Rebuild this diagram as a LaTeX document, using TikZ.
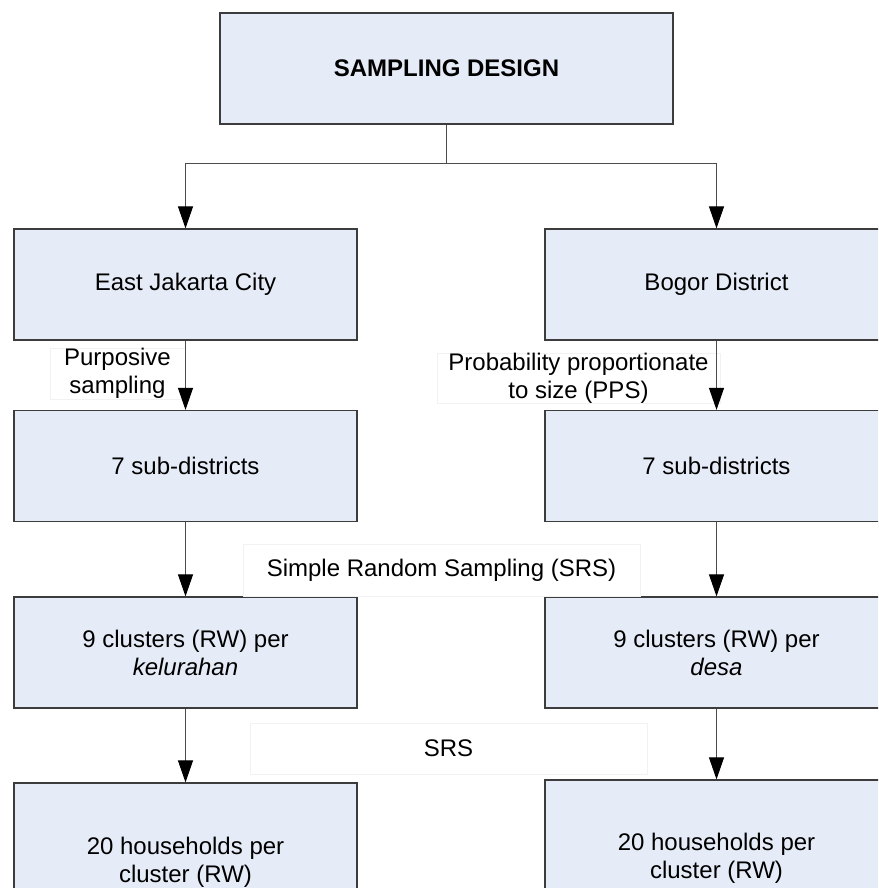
\documentclass[tikz,border=0pt]{standalone}
\usepackage{fontspec}
\setmainfont{Liberation Sans}
\usepackage{xcolor}
\usetikzlibrary{positioning,arrows.meta}
\definecolor{boxfill}{RGB}{230,236,247}
\definecolor{boxline}{RGB}{60,60,60}
\definecolor{labelline}{RGB}{242,242,242}

\begin{document}
\begin{tikzpicture}[x=1pt,y=-1pt,
    stage/.style={draw=boxline, line width=1.2pt, fill=boxfill, minimum width=343pt, minimum height=111pt, align=center, inner sep=0pt, font=\fontsize{24}{28}\selectfont},
    method/.style={draw=labelline, fill=white, align=center, inner sep=0pt, font=\fontsize{24}{28}\selectfont},
    link/.style={draw=black!70, line width=1pt},
    flow/.style={link, -{Triangle[length=22pt,width=15pt,color=black]}}]
    \useasboundingbox (0,0) rectangle (878,888);
    \clip (0,0) rectangle (878,888);

    \node[stage, minimum width=453pt] (design) at (446.5,68.5) {\textbf{SAMPLING DESIGN}};
    \node[stage] (jakarta) at (185.5,284.5) {East Jakarta City};
    \node[stage] (bogor) at (716.5,284.5) {Bogor District};
    \node[stage] (jksub) at (185.5,466) {7 sub-districts};
    \node[stage] (bgsub) at (716.5,466) {7 sub-districts};
    \node[stage] (jkrw) at (185.5,652.5) {9 clusters (RW) per\\\textit{kelurahan}};
    \node[stage] (bgrw) at (716.5,652.5) {9 clusters (RW) per\\\textit{desa}};
    \node[stage, minimum height=158pt] (jkhh) at (185.5,862) {20 households per\\cluster (RW)};
    \node[stage, minimum height=156pt] (bghh) at (716.5,858) {20 households per\\cluster (RW)};

    \node[method, minimum width=135pt, minimum height=51pt] (purposive) at (117.5,373.5) {Purposive\\sampling};
    \node[method, minimum width=283pt, minimum height=50pt] (pps) at (578.5,378) {Probability proportionate\\to size (PPS)};
    \node[method, minimum width=397pt, minimum height=52pt] (srs) at (441.5,570) {Simple Random Sampling (SRS)};
    \node[method, minimum width=397pt, minimum height=51pt] (srsb) at (448.5,748.5) {SRS};

    \coordinate (split) at (446.5,163);
    \draw[link] (design.south) -- (split);
    \draw[link] (jakarta.north |- split) -- (bogor.north |- split);
    \draw[flow] (jakarta.north |- split) -- (jakarta.north);
    \draw[flow] (bogor.north |- split) -- (bogor.north);

    \draw[flow] (jakarta) -- (jksub);
    \draw[flow] (bogor) -- (bgsub);
    \draw[flow] (jksub) -- (jkrw);
    \draw[flow] (bgsub) -- (bgrw);
    \draw[flow] (jkrw) -- (jkhh);
    \draw[flow] (bgrw) -- (bghh);
\end{tikzpicture}
\end{document}
